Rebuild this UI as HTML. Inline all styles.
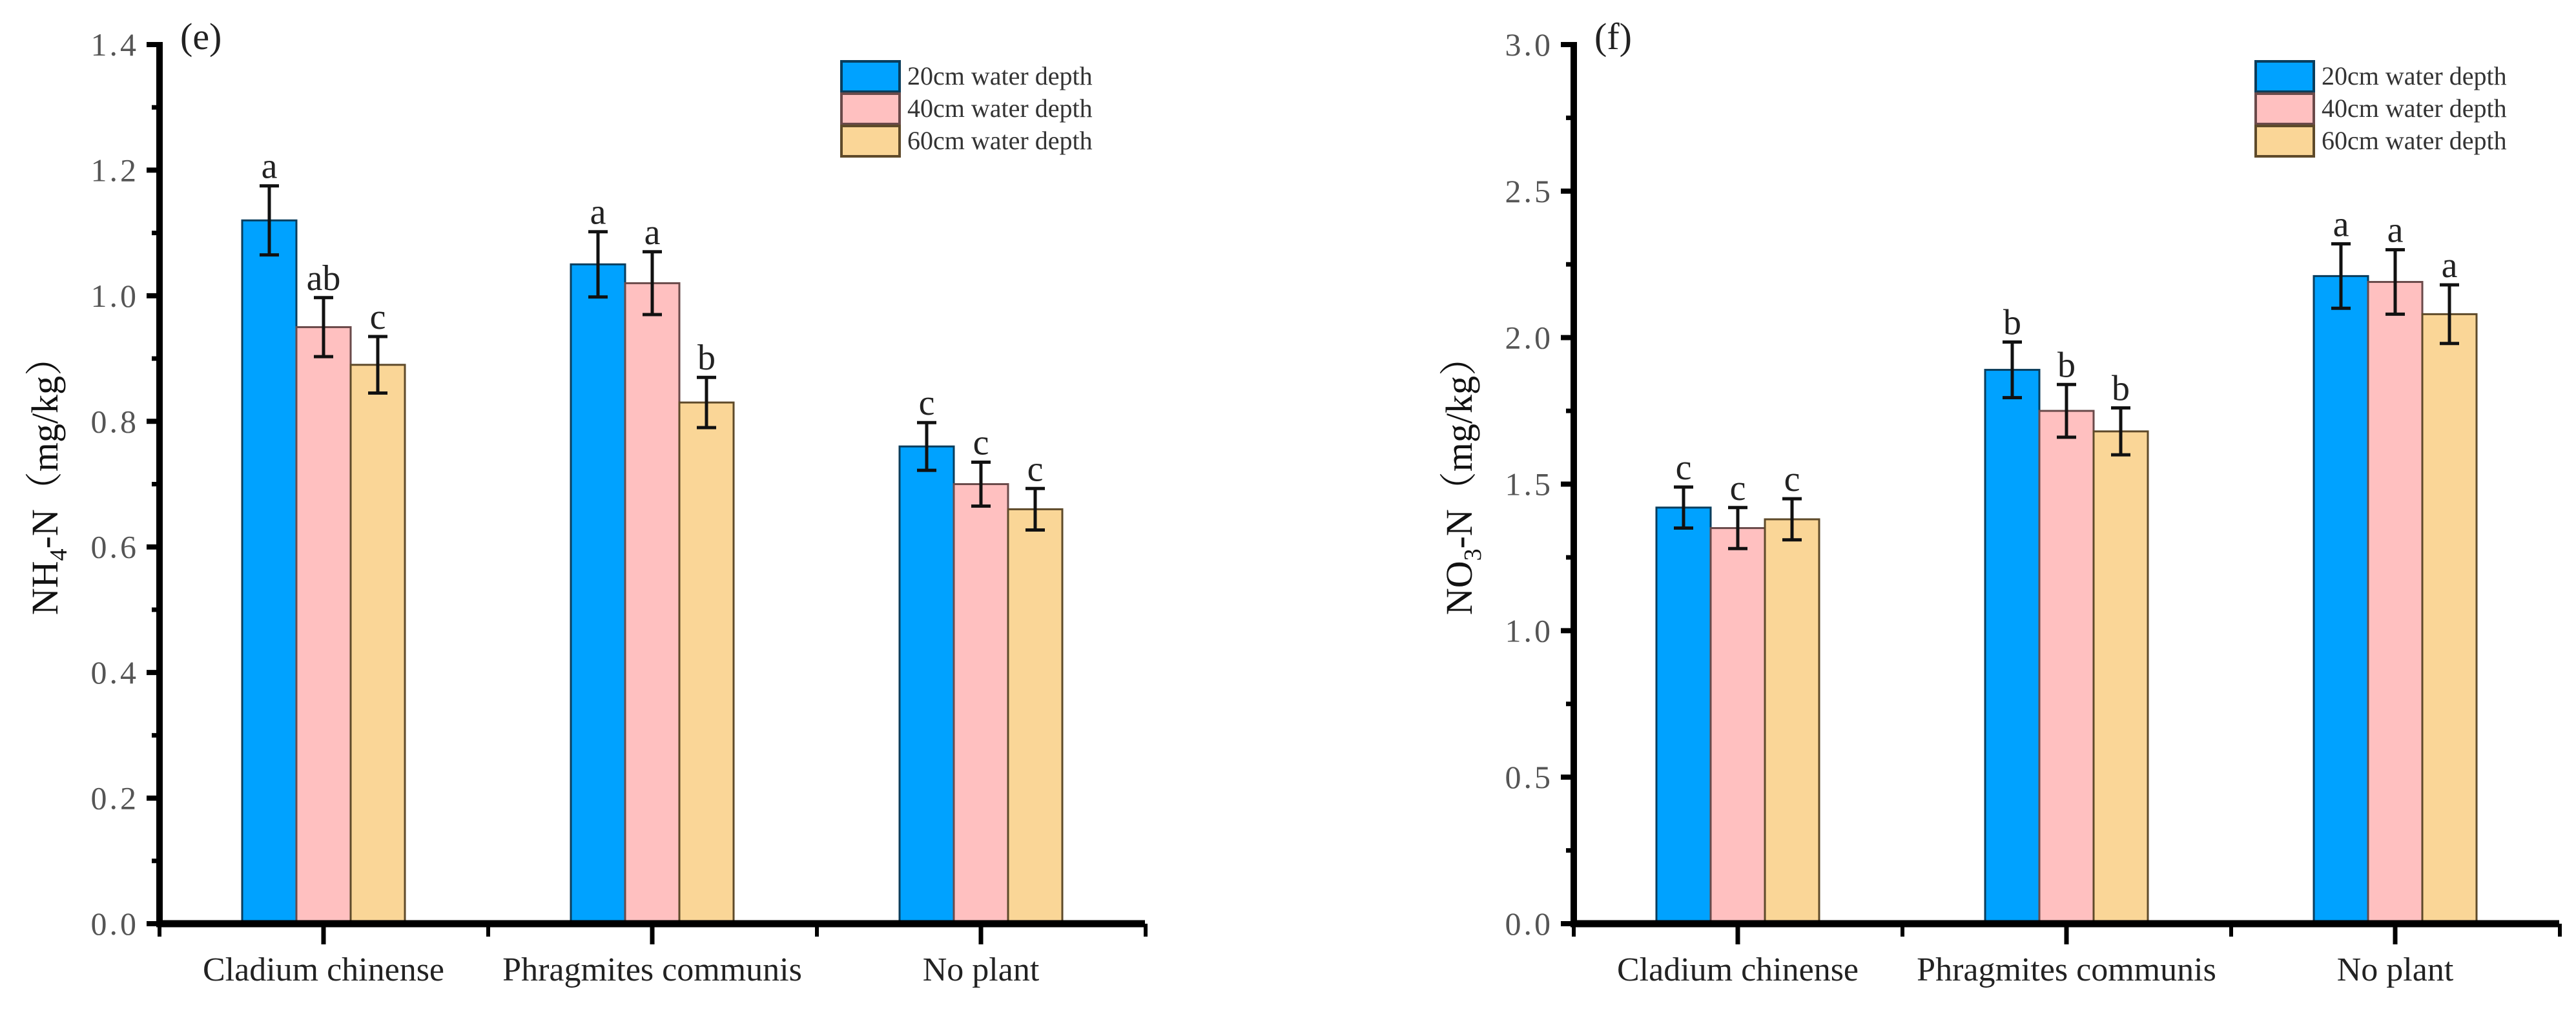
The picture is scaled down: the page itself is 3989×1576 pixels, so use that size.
<!DOCTYPE html>
<html><head><meta charset="utf-8"><style>
html,body{margin:0;padding:0;background:#fff;}
svg{display:block;}
text{font-family:"Liberation Serif",serif;}
</style></head><body>
<svg id="chart" width="3989" height="1576" viewBox="0 0 3989 1576" xmlns="http://www.w3.org/2000/svg"></svg>
<script>
const categories = ["Cladium chinense", "Phragmites communis", "No plant"];
const seriesNames = ["20cm water depth", "40cm water depth", "60cm water depth"];
// panel e: NH4-N
const nh4Values20 = [1.12, 1.05, 0.76];
const nh4Values40 = [0.95, 1.02, 0.70];
const nh4Values60 = [0.89, 0.83, 0.66];
const nh4Err20 = [0.055, 0.052, 0.038];
const nh4Err40 = [0.047, 0.05, 0.035];
const nh4Err60 = [0.045, 0.04, 0.033];
const nh4Letters20 = ["a", "a", "c"];
const nh4Letters40 = ["ab", "a", "c"];
const nh4Letters60 = ["c", "b", "c"];
const nh4Ticks = ["0.0","0.2","0.4","0.6","0.8","1.0","1.2","1.4"];
// panel f: NO3-N
const no3Values20 = [1.42, 1.89, 2.21];
const no3Values40 = [1.35, 1.75, 2.19];
const no3Values60 = [1.38, 1.68, 2.08];
const no3Err20 = [0.07, 0.095, 0.11];
const no3Err40 = [0.07, 0.09, 0.11];
const no3Err60 = [0.07, 0.08, 0.1];
const no3Letters20 = ["c", "b", "a"];
const no3Letters40 = ["c", "b", "a"];
const no3Letters60 = ["c", "b", "a"];
const no3Ticks = ["0.0","0.5","1.0","1.5","2.0","2.5","3.0"];

const NS = "http://www.w3.org/2000/svg";
const svg = document.getElementById("chart");
const fills = ["#00A2FF", "#FFC0C0", "#FAD697"];
const strokes = ["#0a3d5c", "#6a4a4a", "#5e4a2a"];

function mk(tag, attrs, parent) {
  const e = document.createElementNS(NS, tag);
  for (const k in attrs) e.setAttribute(k, attrs[k]);
  (parent || svg).appendChild(e);
  return e;
}

function panel(opt) {
  const g = mk("g", {});
  
  
  const x0 = opt.axisX, y0 = 1430, yTop = 69, xEnd = opt.axisX + 1526;
  const ymax = opt.ymax;
  const Y = v => y0 - (v / ymax) * (y0 - yTop);
  const groupW = 509;
  const X = i => x0 + 254 + i * groupW;
  const bw = 84;

  // y ticks
  const nT = opt.ticks.length;
  for (let i = 0; i < nT; i++) {
    const v = parseFloat(opt.ticks[i]);
    const t = mk("line", {x1: x0 - 20, x2: x0, y1: Y(v), y2: Y(v), stroke: "#000", "stroke-width": 8}, g);
    
    
    const lb = mk("text", {x: x0 - 32, y: Y(v) + 17, "text-anchor": "end", "font-size": 50, fill: "#555", "letter-spacing": "4"}, g);
    
    
    lb.textContent = opt.ticks[i];
    if (i < nT - 1) {
      const vm = (v + parseFloat(opt.ticks[i + 1])) / 2;
      const m = mk("line", {x1: x0 - 12, x2: x0, y1: Y(vm), y2: Y(vm), stroke: "#000", "stroke-width": 7}, g);
      
      
    }
  }
  // bars
  const vals = [opt.v20, opt.v40, opt.v60];
  const errs = [opt.e20, opt.e40, opt.e60];
  const lets = [opt.l20, opt.l40, opt.l60];
  for (let c = 0; c < categories.length; c++) {
    for (let s = 0; s < 3; s++) {
      const bx = X(c) - 1.5 * bw + s * bw;
      const r = mk("rect", {x: bx, y: Y(vals[s][c]), width: bw, height: y0 - Y(vals[s][c]), fill: fills[s], stroke: strokes[s], "stroke-width": 3}, g);
      
      
      const cx = bx + bw / 2;
      const yt = Y(vals[s][c] + errs[s][c]), yb = Y(vals[s][c] - errs[s][c]);
      const eb = mk("path", {d: `M${cx},${yt}V${yb}M${cx - 15},${yt}H${cx + 15}M${cx - 15},${yb}H${cx + 15}`, stroke: "#111", "stroke-width": 5, fill: "none"}, g);
      
      
      const lt = mk("text", {x: cx, y: yt - 12, "text-anchor": "middle", "font-size": 56, fill: "#222"}, g);
      
      
      lt.textContent = lets[s][c];
    }
    const xt = mk("line", {x1: X(c), x2: X(c), y1: y0, y2: y0 + 32, stroke: "#000", "stroke-width": 7}, g);
    
    
    const xl = mk("text", {x: X(c), y: 1518, "text-anchor": "middle", "font-size": 52, fill: "#222"}, g);
    
    
    xl.textContent = categories[c];
  }
  for (let k = 0; k <= 3; k++) {
    const xm = x0 + k * groupW;
    const m = mk("line", {x1: xm, x2: xm, y1: y0, y2: y0 + 20, stroke: "#000", "stroke-width": 6}, g);
    
    
  }
  // axes
  const ya = mk("line", {x1: x0, x2: x0, y1: yTop - 4, y2: y0 + 5, stroke: "#000", "stroke-width": 10}, g);
  
  
  const xa = mk("line", {x1: x0 - 5, x2: xEnd, y1: y0, y2: y0, stroke: "#000", "stroke-width": 11}, g);
  
  
  // panel label
  const pl = mk("text", {x: x0 + 32, y: 76, "font-size": 58, fill: "#222"}, g);
  
  
  pl.textContent = opt.label;
  // y title
  const yt = mk("text", {x: 0, y: 0, "text-anchor": "middle", "font-size": 58, fill: "#111", transform: `translate(${x0 - 158},738) rotate(-90)`}, g);
  
  
  const t1 = mk("tspan", {}, yt); t1.textContent = opt.ytA;
  const t2 = mk("tspan", {"font-size": 38, dy: 14}, yt); t2.textContent = opt.ytSub;
  const t3 = mk("tspan", {dy: -14}, yt); t3.textContent = "-N\uFF08mg/kg\uFF09";
  t3.setAttribute("font-family", "Liberation Serif, Noto Serif CJK SC, serif");
  // legend
  const lx = x0 + 1056;
  for (let s = 0; s < 3; s++) {
    const ly = 95 + s * 50;
    const lg = mk("g", {}, g);
    
    
    mk("rect", {x: lx, y: ly, width: 90, height: 47, fill: fills[s], stroke: strokes[s], "stroke-width": 4}, lg);
    const tx = mk("text", {x: lx + 102, y: ly + 36, "font-size": 40, fill: "#333"}, lg);
    tx.textContent = seriesNames[s];
  }
}

panel({name: "panel-e-nh4", axisX: 247, ymax: 1.4, ticks: nh4Ticks, label: "(e)", ytA: "NH", ytSub: "4",
  v20: nh4Values20, v40: nh4Values40, v60: nh4Values60, e20: nh4Err20, e40: nh4Err40, e60: nh4Err60,
  l20: nh4Letters20, l40: nh4Letters40, l60: nh4Letters60});
panel({name: "panel-f-no3", axisX: 2437, ymax: 3.0, ticks: no3Ticks, label: "(f)", ytA: "NO", ytSub: "3",
  v20: no3Values20, v40: no3Values40, v60: no3Values60, e20: no3Err20, e40: no3Err40, e60: no3Err60,
  l20: no3Letters20, l40: no3Letters40, l60: no3Letters60});
</script>
</body></html>
